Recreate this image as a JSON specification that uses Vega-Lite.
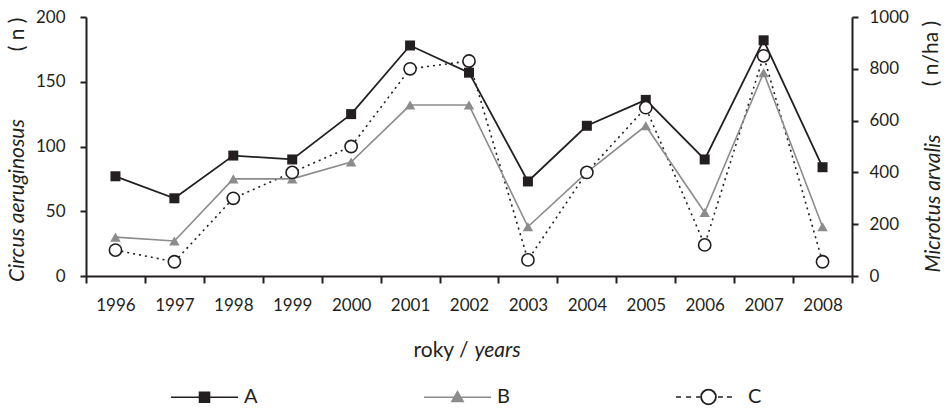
{
  "$schema": "https://vega.github.io/schema/vega-lite/v6.json",
  "width": 766,
  "height": 259,
  "autosize": {"type": "none"},
  "padding": {"left": 86, "top": 17, "right": 94, "bottom": 134},
  "background": "white",
  "config": {
    "view": {"stroke": null},
    "font": "Lato",
    "axis": {
      "grid": false,
      "domainColor": "#231f20",
      "domainWidth": 2,
      "tickColor": "#231f20",
      "tickWidth": 2,
      "labelColor": "#231f20",
      "labelFont": "Lato",
      "labelFontSize": 17,
      "titleColor": "#231f20",
      "titleFont": "Lato",
      "titleFontSize": 21,
      "titleFontWeight": "normal"
    },
    "legend": {
      "labelFont": "Lato",
      "labelFontSize": 20,
      "labelColor": "#231f20"
    }
  },
  "data": {
    "values": [
      {"year": 1996, "series": "A", "value": 77},
      {"year": 1997, "series": "A", "value": 60},
      {"year": 1998, "series": "A", "value": 93},
      {"year": 1999, "series": "A", "value": 90},
      {"year": 2000, "series": "A", "value": 125},
      {"year": 2001, "series": "A", "value": 178},
      {"year": 2002, "series": "A", "value": 157},
      {"year": 2003, "series": "A", "value": 73},
      {"year": 2004, "series": "A", "value": 116},
      {"year": 2005, "series": "A", "value": 136},
      {"year": 2006, "series": "A", "value": 90},
      {"year": 2007, "series": "A", "value": 182},
      {"year": 2008, "series": "A", "value": 84},
      {"year": 1996, "series": "B", "value": 30},
      {"year": 1997, "series": "B", "value": 27},
      {"year": 1998, "series": "B", "value": 75},
      {"year": 1999, "series": "B", "value": 75},
      {"year": 2000, "series": "B", "value": 88},
      {"year": 2001, "series": "B", "value": 132},
      {"year": 2002, "series": "B", "value": 132},
      {"year": 2003, "series": "B", "value": 38},
      {"year": 2004, "series": "B", "value": 80},
      {"year": 2005, "series": "B", "value": 116},
      {"year": 2006, "series": "B", "value": 49},
      {"year": 2007, "series": "B", "value": 157},
      {"year": 2008, "series": "B", "value": 38},
      {"year": 1996, "series": "C", "value": 100},
      {"year": 1997, "series": "C", "value": 55},
      {"year": 1998, "series": "C", "value": 300},
      {"year": 1999, "series": "C", "value": 400},
      {"year": 2000, "series": "C", "value": 500},
      {"year": 2001, "series": "C", "value": 800},
      {"year": 2002, "series": "C", "value": 830},
      {"year": 2003, "series": "C", "value": 62},
      {"year": 2004, "series": "C", "value": 400},
      {"year": 2005, "series": "C", "value": 650},
      {"year": 2006, "series": "C", "value": 120},
      {"year": 2007, "series": "C", "value": 850},
      {"year": 2008, "series": "C", "value": 55}
    ]
  },
  "layer": [
    {
      "transform": [{"filter": "datum.series === 'C'"}],
      "mark": {"type": "line", "strokeWidth": 1.6, "strokeDash": [2, 4]},
      "encoding": {
        "x": {"field": "year", "type": "ordinal", "bandPosition": 0.5, "scale": {"type": "band", "paddingInner": 0, "paddingOuter": 0}, "axis": null},
        "y": {"field": "value", "type": "quantitative", "scale": {"domain": [0, 1000], "nice": false},
          "axis": {"orient": "right", "values": [0, 200, 400, 600, 800, 1000], "format": "d", "tickSize": 6, "labelPadding": 11,
            "title": "Microtus arvalis", "titleFontStyle": "italic", "titleX": 81, "titleY": 186, "titleAngle": 270,
            "titleAlign": "center", "titleBaseline": "middle",
            "encode": {"ticks": {"update": {"x": {"value": -6}, "x2": {"value": 6}}}}}},
        "color": {"field": "series", "type": "nominal", "scale": {"domain": ["A", "B", "C"], "range": ["#231f20", "#8c8c8c", "#231f20"]}}
      }
    },
    {
      "transform": [{"filter": "datum.series === 'B'"}],
      "mark": {"type": "line", "strokeWidth": 1.6, "point": {"shape": "triangle-up", "size": 110, "filled": true}},
      "encoding": {
        "x": {"field": "year", "type": "ordinal", "bandPosition": 0.5, "scale": {"type": "band", "paddingInner": 0, "paddingOuter": 0},
          "axis": {"orient": "bottom", "domain": false, "ticks": false, "labels": false, "title": "years", "titleFontStyle": "italic",
            "titleX": 388, "titleY": 74, "titleAlign": "left", "titleBaseline": "middle", "titleAngle": 0}},
        "y": {"field": "value", "type": "quantitative", "scale": {"domain": [0, 200], "nice": false},
          "axis": {"orient": "left", "domain": false, "ticks": false, "labels": false, "title": "( n )", "titleFontStyle": "normal",
            "titleX": -69, "titleY": 17, "titleAngle": 270, "titleAlign": "center", "titleBaseline": "middle"}},
        "color": {"field": "series", "type": "nominal", "scale": {"domain": ["A", "B", "C"], "range": ["#231f20", "#8c8c8c", "#231f20"]}}
      }
    },
    {
      "transform": [{"filter": "datum.series === 'A'"}],
      "mark": {"type": "line", "strokeWidth": 1.8, "point": {"shape": "square", "size": 100, "filled": true}},
      "encoding": {
        "x": {"field": "year", "type": "ordinal", "bandPosition": 0.5, "scale": {"type": "band", "paddingInner": 0, "paddingOuter": 0},
          "axis": {"orient": "bottom", "tickBand": "extent", "tickSize": 7, "labelPadding": 14, "labelAngle": 0,
            "title": "roky /", "titleFontStyle": "normal", "titleX": 382, "titleY": 74, "titleAlign": "right", "titleBaseline": "middle", "titleAngle": 0,
            "encode": {"ticks": {"update": {"y": {"value": -7}, "y2": {"value": 7}}}}}},
        "y": {"field": "value", "type": "quantitative", "scale": {"domain": [0, 200], "nice": false},
          "axis": {"orient": "left", "values": [0, 50, 100, 150, 200], "tickSize": 6, "labelPadding": 15,
            "title": "Circus aeruginosus", "titleFontStyle": "italic", "titleX": -69, "titleY": 183, "titleAngle": 270,
            "titleAlign": "center", "titleBaseline": "middle",
            "encode": {"ticks": {"update": {"x": {"value": -6}, "x2": {"value": 6}}}}}},
        "color": {"field": "series", "type": "nominal", "scale": {"domain": ["A", "B", "C"], "range": ["#231f20", "#8c8c8c", "#231f20"]},
          "legend": {
            "title": null, "orient": "none", "legendX": 84, "legendY": 345, "direction": "horizontal",
            "symbolSize": 4489, "symbolStrokeWidth": 1.5, "labelOffset": 5, "columnPadding": 163,
            "encode": {"symbols": {"update": {
              "shape": {"signal": "datum.value === 'A' ? 'M-1,0H1M-0.15,-0.15H0.15V0.15H-0.15Z' : datum.value === 'B' ? 'M-1,0H1M0,-0.17L0.17,0.13L-0.17,0.13Z' : 'M-0.97,0H-0.82M-0.67,0H-0.52M-0.37,0H-0.25M0.225,0A0.225,0.225,0,1,1,-0.225,0A0.225,0.225,0,1,1,0.225,0ZM0.215,0A0.215,0.215,0,1,0,-0.215,0A0.215,0.215,0,1,0,0.215,0ZM0.28,0H0.43M0.55,0H0.7'"},
              "fill": {"signal": "datum.value === 'A' ? '#231f20' : datum.value === 'B' ? '#8c8c8c' : '#231f20'"},
              "stroke": {"signal": "datum.value === 'B' ? '#8c8c8c' : '#231f20'"},
              "strokeWidth": {"value": 1.5},
              "opacity": {"value": 1}
            }}}
          }}
      }
    },
    {
      "transform": [{"filter": "datum.series === 'C'"}],
      "mark": {"type": "point", "shape": "circle", "size": 150, "filled": true, "fill": "white", "stroke": "#231f20", "strokeWidth": 1.6, "opacity": 1},
      "encoding": {
        "x": {"field": "year", "type": "ordinal", "bandPosition": 0.5, "scale": {"type": "band", "paddingInner": 0, "paddingOuter": 0}, "axis": null},
        "y": {"field": "value", "type": "quantitative", "scale": {"domain": [0, 1000], "nice": false},
          "axis": {"orient": "right", "domain": false, "ticks": false, "labels": false, "title": "( n/ha )", "titleFontStyle": "normal",
            "titleX": 79, "titleY": 36, "titleAngle": 270, "titleAlign": "center", "titleBaseline": "middle"}}
      }
    }
  ],
  "resolve": {"scale": {"x": "independent", "y": "independent"}}
}
